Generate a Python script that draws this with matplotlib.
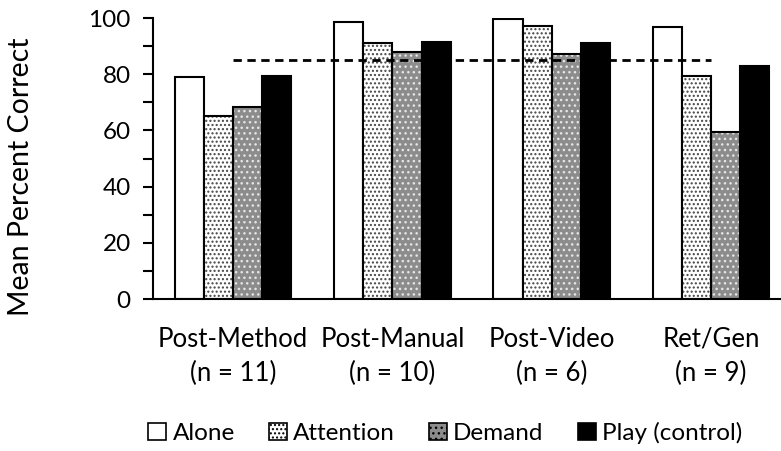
import numpy as np
import matplotlib
matplotlib.use("Agg")
import matplotlib.pyplot as plt
from matplotlib.patches import Patch

plt.rcParams['font.family'] = ['Lato', 'DejaVu Sans']
plt.rcParams['hatch.linewidth'] = 1.0

# 数据
groups = ["Post-Method\n(n = 11)", "Post-Manual\n(n = 10)", "Post-Video\n(n = 6)", "Ret/Gen\n(n = 9)"]
conditions = ["Alone", "Attention", "Demand", "Play (control)"]
alone = [79, 98.5, 99.7, 96.8]
attention = [65, 91, 97.3, 79.3]
demand = [68.5, 88, 87.3, 59.3]
play = [79.5, 91.3, 91, 83]
criterion = 85

fig = plt.figure(figsize=(7.81, 4.51), dpi=100)
ax = fig.add_axes([0.196, 0.337, 0.804, 0.623])

x = np.arange(len(groups))
w = 0.183
offsets = [-1.5 * w, -0.5 * w, 0.5 * w, 1.5 * w]

# 白底条
ax.bar(x + offsets[0], alone, w, facecolor='white', edgecolor='black', linewidth=1.5, zorder=2)
# 点状填充
ax.bar(x + offsets[1], attention, w, facecolor='white', edgecolor='#444444', linewidth=0, hatch='....', zorder=2)
ax.bar(x + offsets[1], attention, w, facecolor='none', edgecolor='black', linewidth=1.5, zorder=3)
# 灰色 + 白点
ax.bar(x + offsets[2], demand, w, facecolor='#8c8c8c', edgecolor='#e6e6e6', linewidth=0, hatch='...', zorder=2)
ax.bar(x + offsets[2], demand, w, facecolor='none', edgecolor='black', linewidth=1.5, zorder=3)
# 黑色
ax.bar(x + offsets[3], play, w, facecolor='black', edgecolor='black', linewidth=1.5, zorder=2)

# 虚线
ax.plot([x[0], x[-1]], [criterion, criterion], color='black', linestyle=(0, (3, 2)), linewidth=2, zorder=4)

ax.set_xlim(-0.503, 3.44)
ax.set_ylim(0, 100)
ax.set_yticks(np.arange(0, 101, 20))
ax.set_yticks(np.arange(10, 100, 20), minor=True)
ax.set_xticks(x)
ax.set_xticklabels(groups, fontsize=18.5, linespacing=1.45)
ax.tick_params(axis='x', length=0, pad=20)
ax.tick_params(axis='y', which='both', labelsize=17.5, length=7, width=1.5, direction='out', pad=9)
ax.set_ylabel("Mean Percent Correct", fontsize=20.5)
ax.yaxis.set_label_coords(-0.19, 0.435)

for s in ['top', 'right']:
    ax.spines[s].set_visible(False)
for s in ['left', 'bottom']:
    ax.spines[s].set_linewidth(1.5)

handles = [
    Patch(facecolor='white', edgecolor='black', linewidth=1.2),
    Patch(facecolor='white', edgecolor='black', linewidth=1.2, hatch='....'),
    Patch(facecolor='#8c8c8c', edgecolor='black', linewidth=1.2, hatch='...'),
    Patch(facecolor='black', edgecolor='black', linewidth=1.2),
]
fig.legend(handles, conditions, loc='center', bbox_to_anchor=(0.57, 0.04), ncol=4,
           frameon=False, fontsize=17.5, handlelength=0.75, handleheight=0.75,
           handletextpad=0.25, columnspacing=1.4)

fig.savefig("out.png", dpi=100)
